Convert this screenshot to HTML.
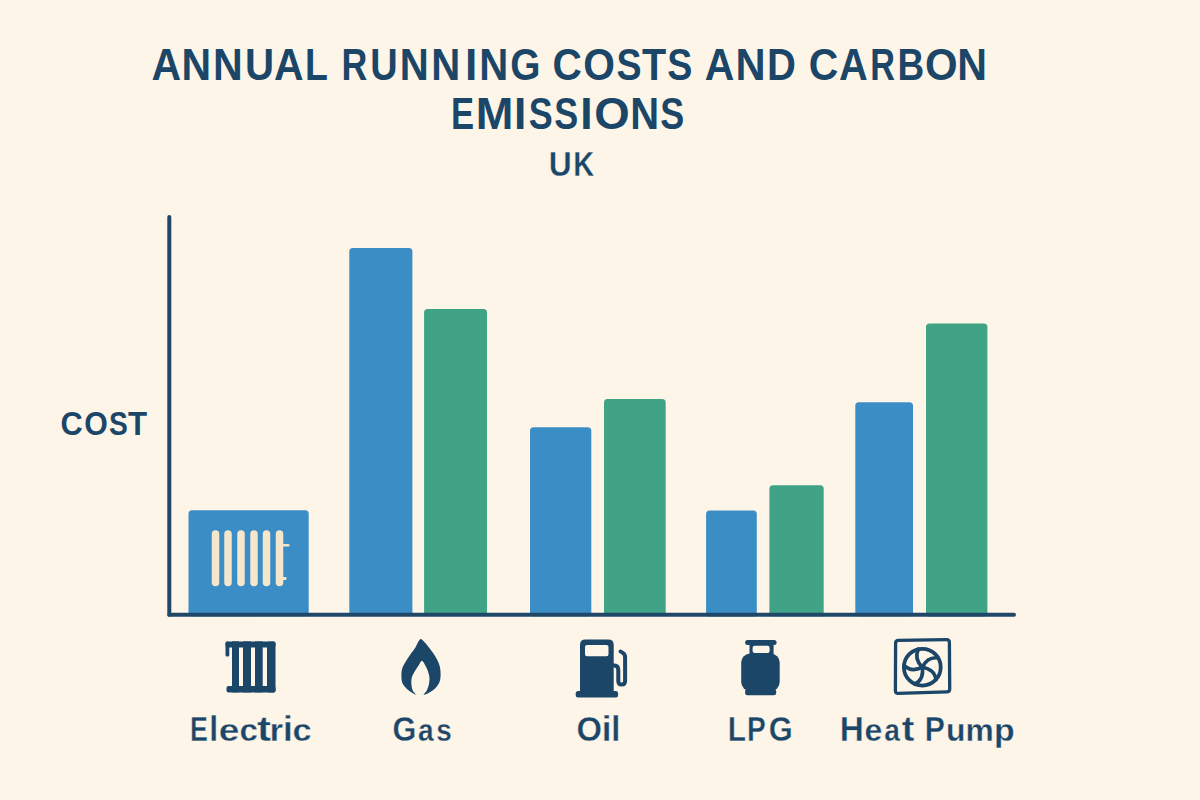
<!DOCTYPE html>
<html>
<head>
<meta charset="utf-8">
<style>
html,body{margin:0;padding:0;background:#FDF5E8;}
body{width:1200px;height:800px;overflow:hidden;position:relative;}
svg{position:absolute;left:0;top:0;}
text{font-family:"Liberation Sans", sans-serif;font-weight:bold;fill:#1B4668;}
.thin{stroke:#FDF5E8;stroke-width:0.35px;}
</style>
</head>
<body>
<svg width="1200" height="800" viewBox="0 0 1200 800">
  <rect x="0" y="0" width="1200" height="800" fill="#FDF5E8"/>

  <!-- Bars -->
  <g>
    <rect x="188.5" y="510.3" width="120.2" height="106" rx="3.5" fill="#3B8DC6"/>
    <rect x="349.3" y="248" width="63.1" height="368" rx="3.5" fill="#3B8DC6"/>
    <rect x="424.1" y="309.1" width="62.9" height="307" rx="3.5" fill="#41A386"/>
    <rect x="530" y="427.3" width="61.3" height="189" rx="3.5" fill="#3B8DC6"/>
    <rect x="604" y="399.1" width="61.7" height="217" rx="3.5" fill="#41A386"/>
    <rect x="706.1" y="510.4" width="50.7" height="106" rx="3.5" fill="#3B8DC6"/>
    <rect x="769.4" y="485.2" width="54.3" height="131" rx="3.5" fill="#41A386"/>
    <rect x="855.3" y="402.3" width="57.7" height="214" rx="3.5" fill="#3B8DC6"/>
    <rect x="926" y="323.4" width="61.4" height="293" rx="3.5" fill="#41A386"/>
  </g>

  <!-- Radiator inside first bar -->
  <g fill="#F5E6CC">
    <rect x="211.75" y="530.3" width="7.5" height="56" rx="3.75"/>
    <rect x="224.25" y="530.3" width="7.5" height="56" rx="3.75"/>
    <rect x="237.25" y="530.3" width="7.5" height="56" rx="3.75"/>
    <rect x="250.25" y="530.3" width="7.5" height="56" rx="3.75"/>
    <rect x="262.75" y="530.3" width="7.5" height="56" rx="3.75"/>
    <rect x="275.75" y="530.3" width="7.5" height="56" rx="3.75"/>
    <rect x="282" y="544" width="7.5" height="2.5" rx="1"/>
    <rect x="282" y="577" width="4.5" height="3" rx="1"/>
  </g>

  <!-- Axes -->
  <line x1="169.3" y1="217" x2="169.3" y2="614.7" stroke="#1F4868" stroke-width="4" stroke-linecap="round"/>
  <line x1="169.3" y1="614.7" x2="1014" y2="614.7" stroke="#1F4868" stroke-width="4" stroke-linecap="round"/>

  <!-- Icons -->
  <g fill="#1B4668">
    <!-- Electric radiator icon -->
    <rect x="225.5" y="641.4" width="50" height="6" rx="2"/>
    <rect x="225.5" y="641.4" width="3.8" height="15" rx="1.5"/>
    <rect x="226.5" y="686" width="49" height="6.6" rx="2"/>
    <rect x="232" y="641.4" width="7" height="51"/>
    <rect x="243" y="641.4" width="8" height="51"/>
    <rect x="255" y="641.4" width="7.7" height="51"/>
    <rect x="267" y="641.4" width="8.5" height="51" rx="2"/>

    <!-- Gas flame -->
    <path d="M420.2 639.2 C420.9 638.8 421.1 639.0 422.4 640.1 C423.6 641.2 425.9 643.6 427.6 645.8 C429.4 647.9 431.3 650.4 432.9 652.8 C434.5 655.1 436.1 657.4 437.2 659.8 C438.4 662.1 439.3 664.4 439.9 666.8 C440.4 669.1 440.6 671.4 440.6 673.7 C440.6 676.1 440.6 678.6 439.9 680.7 C439.2 682.9 438.0 685.0 436.4 686.9 C434.8 688.8 432.4 690.8 430.2 692.1 C428.1 693.5 424.3 695.2 423.7 694.9 C423.1 694.6 425.9 692.1 426.8 690.4 C427.6 688.6 428.5 686.4 428.9 684.2 C429.4 682.1 429.6 679.6 429.4 677.2 C429.2 674.9 428.3 672.3 427.6 670.2 C426.9 668.2 425.9 666.6 425.0 665.0 C424.1 663.4 423.0 660.8 421.9 660.8 C420.9 660.8 420.0 663.4 418.9 665.0 C417.8 666.6 416.5 668.2 415.4 670.2 C414.2 672.3 412.5 674.9 411.9 677.2 C411.2 679.6 411.3 682.1 411.4 684.2 C411.6 686.4 411.9 688.6 412.8 690.4 C413.6 692.1 416.5 694.6 416.2 694.9 C416.0 695.2 412.8 693.3 411.0 692.1 C409.2 690.9 407.2 689.3 405.8 687.7 C404.3 686.1 403.0 684.5 402.2 682.5 C401.5 680.4 401.4 677.8 401.4 675.5 C401.4 673.2 401.5 670.8 402.2 668.5 C403.0 666.2 404.3 664.0 405.8 661.5 C407.2 659.0 409.4 656.0 411.0 653.6 C412.6 651.3 414.2 649.4 415.4 647.5 C416.5 645.6 417.2 643.6 418.0 642.2 C418.8 640.9 419.5 639.6 420.2 639.2Z"/>

    <!-- Oil pump -->
    <path d="M580 645 Q580 639.6 585.5 639.6 H608.2 Q613.7 639.6 613.7 645 V691.2 H580 Z M585 647 V654.2 Q585 656.2 587 656.2 H606.5 Q608.5 656.2 608.5 654.2 V646.9 Q608.5 644.9 606.5 644.9 H587 Q585 644.9 585 647 Z" fill-rule="evenodd"/>
    <rect x="575.7" y="691" width="42.4" height="6.4" rx="2.5"/>
    <path d="M613 665.5 H614.5 Q618.3 665.5 618.3 670 V681 Q618.3 684.5 621.7 684.5 Q625.1 684.5 625.1 681 V657 Q625.1 653.5 620.5 651.5" fill="none" stroke="#1B4668" stroke-width="4" stroke-linecap="round"/>

    <!-- LPG -->
    <rect x="745.1" y="640" width="31.5" height="5" rx="2.5"/>
    <path d="M749.5 644.9 H773.6 V654 H749.5 Z M752.6 647.7 Q752.6 645.7 754.6 645.7 H767.6 Q769.6 645.7 769.6 647.7 V650.9 Q769.6 652.9 767.6 652.9 H754.6 Q752.6 652.9 752.6 650.9 Z" fill-rule="evenodd"/>
    <rect x="741.2" y="653.6" width="38.5" height="37.5" rx="9"/>
    <rect x="745.1" y="689" width="31.1" height="6.2" rx="2.5"/>
  </g>

  <!-- Heat pump icon -->
  <g fill="none" stroke="#1B4668" stroke-width="3.3" stroke-linecap="round" stroke-linejoin="round">
    <path d="M898.5 640.4 L946.5 639.6 Q949.4 639.6 949.4 642.5 L949.7 689 Q949.7 691.8 946.9 691.9 L898.2 693.4 Q895.4 693.5 895.4 690.6 L895.6 643.3 Q895.6 640.4 898.5 640.4 Z"/>
    <circle cx="922.3" cy="667.2" r="18.4" stroke-width="3.8"/>
    <g stroke-width="3.6">
      <path d="M922.3 667.2 C 916.6 661.5, 915.3 655.5, 918.4 649.2"/>
      <path d="M922.3 667.2 C 916.6 661.5, 915.3 655.5, 918.4 649.2" transform="rotate(72 922.3 667.2)"/>
      <path d="M922.3 667.2 C 916.6 661.5, 915.3 655.5, 918.4 649.2" transform="rotate(144 922.3 667.2)"/>
      <path d="M922.3 667.2 C 916.6 661.5, 915.3 655.5, 918.4 649.2" transform="rotate(216 922.3 667.2)"/>
      <path d="M922.3 667.2 C 916.6 661.5, 915.3 655.5, 918.4 649.2" transform="rotate(288 922.3 667.2)"/>
    </g>
  </g>
  <!-- Title -->
  <text transform="translate(151.48 79.50) scale(0.925 1.000)" font-size="44.3">A</text>
  <text transform="translate(181.46 79.50) scale(0.925 1.000)" font-size="44.3">N</text>
  <text transform="translate(213.05 79.50) scale(0.929 1.000)" font-size="44.3">N</text>
  <text transform="translate(245.08 79.50) scale(0.909 1.000)" font-size="44.3">U</text>
  <text transform="translate(273.98 79.50) scale(0.925 1.000)" font-size="44.3">A</text>
  <text transform="translate(305.00 79.50) scale(0.845 1.000)" font-size="44.3">L</text>
  <text transform="translate(341.41 79.50) scale(0.807 1.000)" font-size="44.3">R</text>
  <text transform="translate(370.32 79.50) scale(0.856 1.000)" font-size="44.3">U</text>
  <text transform="translate(399.71 79.50) scale(0.906 1.000)" font-size="44.3">N</text>
  <text transform="translate(431.21 79.50) scale(0.906 1.000)" font-size="44.3">N</text>
  <text transform="translate(464.90 79.50) scale(1.000 1.000)" font-size="44.3">I</text>
  <text transform="translate(479.31 79.50) scale(0.906 1.000)" font-size="44.3">N</text>
  <text transform="translate(510.21 79.50) scale(0.876 1.000)" font-size="44.3">G</text>
  <text transform="translate(552.53 79.50) scale(0.918 1.000)" font-size="44.3">C</text>
  <text transform="translate(583.33 79.50) scale(0.919 1.000)" font-size="44.3">O</text>
  <text transform="translate(616.42 79.50) scale(0.848 1.000)" font-size="44.3">S</text>
  <text transform="translate(642.06 79.50) scale(0.893 1.000)" font-size="44.3">T</text>
  <text transform="translate(667.22 79.50) scale(0.848 1.000)" font-size="44.3">S</text>
  <text transform="translate(704.78 79.50) scale(0.925 1.000)" font-size="44.3">A</text>
  <text transform="translate(735.41 79.50) scale(0.941 1.000)" font-size="44.3">N</text>
  <text transform="translate(767.03 79.50) scale(0.902 1.000)" font-size="44.3">D</text>
  <text transform="translate(808.63 79.50) scale(0.922 1.000)" font-size="44.3">C</text>
  <text transform="translate(839.01 79.50) scale(0.898 1.000)" font-size="44.3">A</text>
  <text transform="translate(870.21 79.50) scale(0.772 1.000)" font-size="44.3">R</text>
  <text transform="translate(897.53 79.50) scale(0.833 1.000)" font-size="44.3">B</text>
  <text transform="translate(924.98 79.50) scale(0.945 1.000)" font-size="44.3">O</text>
  <text transform="translate(957.25 79.50) scale(0.929 1.000)" font-size="44.3">N</text>
  <text transform="translate(450.89 128.60) scale(0.781 1.000)" font-size="44.3">E</text>
  <text transform="translate(475.68 128.60) scale(1.020 1.000)" font-size="44.3">M</text>
  <text transform="translate(513.90 128.60) scale(1.000 1.000)" font-size="44.3">I</text>
  <text transform="translate(528.67 128.60) scale(0.810 1.000)" font-size="44.3">S</text>
  <text transform="translate(554.17 128.60) scale(0.810 1.000)" font-size="44.3">S</text>
  <text transform="translate(580.25 128.60) scale(1.000 1.000)" font-size="44.3">I</text>
  <text transform="translate(594.23 128.60) scale(1.027 1.000)" font-size="44.3">O</text>
  <text transform="translate(630.13 128.60) scale(0.902 1.000)" font-size="44.3">N</text>
  <text transform="translate(660.37 128.60) scale(0.810 1.000)" font-size="44.3">S</text>
  <text class="thin" transform="translate(548.79 176.40) scale(0.903 1.000)" font-size="35.2">U</text>
  <text class="thin" transform="translate(573.26 176.40) scale(0.822 1.000)" font-size="35.2">K</text>
  <!-- Y label -->
  <text transform="translate(60.54 434.80) scale(0.915 1.000)" font-size="33.6">C</text>
  <text transform="translate(84.26 434.80) scale(0.900 1.000)" font-size="33.6">O</text>
  <text transform="translate(108.99 434.80) scale(0.840 1.000)" font-size="33.6">S</text>
  <text transform="translate(128.05 434.80) scale(0.930 1.000)" font-size="33.6">T</text>
  <!-- Category labels -->
  <text class="thin" transform="translate(189.91 740.50) scale(0.760 1.000)" font-size="35.2">E</text>
  <text class="thin" transform="translate(209.26 740.50) scale(0.911 1.000)" font-size="35.2">l</text>
  <text class="thin" transform="translate(218.75 740.50) scale(1.053 0.915)" font-size="35.2">e</text>
  <text class="thin" transform="translate(239.50 740.50) scale(0.943 0.915)" font-size="35.2">c</text>
  <text class="thin" transform="translate(257.09 740.50) scale(1.197 1.000)" font-size="35.2">t</text>
  <text class="thin" transform="translate(269.39 740.50) scale(0.996 0.915)" font-size="35.2">r</text>
  <text class="thin" transform="translate(283.03 740.50) scale(1.000 1.000)" font-size="35.2">i</text>
  <text class="thin" transform="translate(292.55 740.50) scale(0.978 0.915)" font-size="35.2">c</text>
  <text class="thin" transform="translate(392.49 740.50) scale(0.869 1.000)" font-size="35.2">G</text>
  <text class="thin" transform="translate(417.93 740.50) scale(0.799 0.915)" font-size="35.2">a</text>
  <text class="thin" transform="translate(436.22 740.50) scale(0.793 0.915)" font-size="35.2">s</text>
  <text class="thin" transform="translate(576.55 740.50) scale(0.932 1.000)" font-size="35.2">O</text>
  <text class="thin" transform="translate(601.86 740.50) scale(0.994 1.000)" font-size="35.2">i</text>
  <text class="thin" transform="translate(611.31 740.50) scale(0.932 1.000)" font-size="35.2">l</text>
  <text class="thin" transform="translate(727.81 740.50) scale(0.847 1.000)" font-size="35.2">L</text>
  <text class="thin" transform="translate(747.12 740.50) scale(0.798 1.000)" font-size="35.2">P</text>
  <text class="thin" transform="translate(768.84 740.50) scale(0.876 1.000)" font-size="35.2">G</text>
  <text class="thin" transform="translate(839.87 740.50) scale(0.947 1.000)" font-size="35.2">H</text>
  <text class="thin" transform="translate(864.55 740.50) scale(0.909 0.915)" font-size="35.2">e</text>
  <text class="thin" transform="translate(884.18 740.50) scale(0.799 0.915)" font-size="35.2">a</text>
  <text class="thin" transform="translate(901.64 740.50) scale(1.072 1.000)" font-size="35.2">t</text>
  <text class="thin" transform="translate(924.68 740.50) scale(0.856 1.000)" font-size="35.2">P</text>
  <text class="thin" transform="translate(945.92 740.50) scale(0.906 0.915)" font-size="35.2">u</text>
  <text class="thin" transform="translate(965.40 740.50) scale(0.903 0.915)" font-size="35.2">m</text>
  <text class="thin" transform="translate(994.02 740.50) scale(0.961 0.915)" font-size="35.2">p</text>
</svg>
</body>
</html>
